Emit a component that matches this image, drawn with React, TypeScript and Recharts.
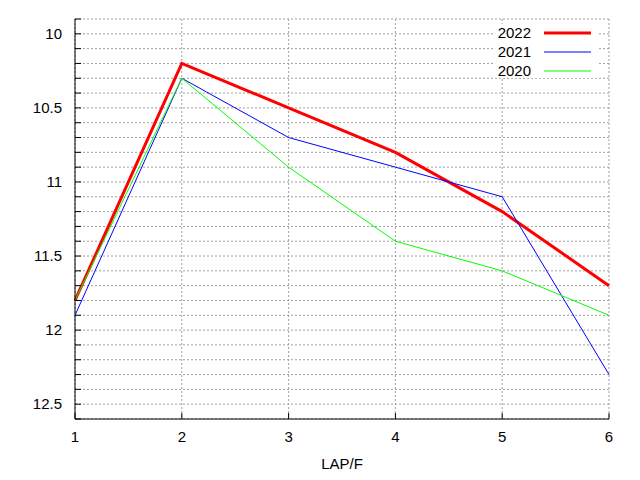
import React from "react";
import {
  LineChart,
  Line,
  XAxis,
  YAxis,
  CartesianGrid,
  Legend,
} from "recharts";

// values
const X_VALUES = [1, 2, 3, 4, 5, 6];
const SERIES_2022 = [11.8, 10.2, 10.5, 10.8, 11.2, 11.7];
const SERIES_2021 = [11.9, 10.3, 10.7, 10.9, 11.1, 12.3];
const SERIES_2020 = [11.8, 10.3, 10.9, 11.4, 11.6, 11.9];

const X_TICKS = [1, 2, 3, 4, 5, 6];
const Y_TICKS = [
  9.9, 10, 10.1, 10.2, 10.3, 10.4, 10.5, 10.6, 10.7, 10.8, 10.9, 11, 11.1,
  11.2, 11.3, 11.4, 11.5, 11.6, 11.7, 11.8, 11.9, 12, 12.1, 12.2, 12.3, 12.4,
  12.5, 12.6,
];
const Y_LABELS = [10, 10.5, 11, 11.5, 12, 12.5];

const SERIES = [
  { key: "2022", color: "#ff0000", width: 3 },
  { key: "2021", color: "#0000ff", width: 1 },
  { key: "2020", color: "#00ff00", width: 1 },
];

const data = X_VALUES.map((x, i) => ({
  x,
  "2022": SERIES_2022[i],
  "2021": SERIES_2021[i],
  "2020": SERIES_2020[i],
}));

const FONT = "'Liberation Sans', Arial, sans-serif";
const TICK_LEN = 6;

const LeftTick = ({ x, y, payload }: any) => (
  <g>
    <line x1={x} x2={x + TICK_LEN} y1={y} y2={y} stroke="#000" />
    {Y_LABELS.includes(payload.value) && (
      <text
        x={x - 13}
        y={y}
        dy="0.35em"
        textAnchor="end"
        fill="#000"
        fontSize={15}
        fontFamily={FONT}
      >
        {payload.value}
      </text>
    )}
  </g>
);

const RightTick = ({ x, y }: any) => (
  <line x1={x} x2={x - TICK_LEN} y1={y} y2={y} stroke="#000" />
);

const BottomTick = ({ x, y, payload }: any) => (
  <g>
    <line x1={x} x2={x} y1={y} y2={y - TICK_LEN} stroke="#000" />
    <text
      x={x}
      y={y + 12}
      dy="0.71em"
      textAnchor="middle"
      fill="#000"
      fontSize={15}
      fontFamily={FONT}
    >
      {payload.value}
    </text>
  </g>
);

const TopTick = ({ x, y }: any) => (
  <line x1={x} x2={x} y1={y} y2={y + TICK_LEN} stroke="#000" />
);

const KeyBox = () => (
  <svg width={104} height={54} style={{ display: "block", background: "#fff" }}>
    {SERIES.map((s, i) => (
      <g key={s.key}>
        <text
          x={38}
          y={9 + i * 19}
          dy="0.35em"
          textAnchor="end"
          fill="#000"
          fontSize={15}
          fontFamily={FONT}
        >
          {s.key}
        </text>
        <line
          x1={51}
          x2={98}
          y1={9 + i * 19}
          y2={9 + i * 19}
          stroke={s.color}
          strokeWidth={s.width}
        />
      </g>
    ))}
  </svg>
);

export default function App() {
  return (
    <div style={{ position: "absolute", left: 0, top: 0, background: "#fff" }}>
      <LineChart
        width={640}
        height={480}
        data={data}
        margin={{ top: 19, right: 31, bottom: 0, left: 0 }}
      >
        <CartesianGrid stroke="#a0a0a0" strokeDasharray="2 2" />
        <XAxis
          dataKey="x"
          type="number"
          domain={[1, 6]}
          ticks={X_TICKS}
          interval={0}
          height={61}
          tickSize={0}
          tickMargin={0}
          tickLine={false}
          axisLine={{ stroke: "#000" }}
          tick={BottomTick}
          label={{
            value: "LAP/F",
            position: "insideBottom",
            offset: 11,
            fill: "#000",
            fontSize: 15,
            fontFamily: FONT,
          }}
        />
        <XAxis
          xAxisId="top"
          orientation="top"
          dataKey="x"
          type="number"
          domain={[1, 6]}
          ticks={X_TICKS}
          interval={0}
          height={0}
          tickSize={0}
          tickMargin={0}
          tickLine={false}
          axisLine={{ stroke: "#000" }}
          tick={TopTick}
        />
        <YAxis
          type="number"
          reversed
          domain={[9.9, 12.6]}
          allowDataOverflow
          ticks={Y_TICKS}
          interval={0}
          width={75}
          tickSize={0}
          tickMargin={0}
          tickLine={false}
          axisLine={{ stroke: "#000" }}
          tick={LeftTick}
        />
        <YAxis
          yAxisId="right"
          orientation="right"
          type="number"
          reversed
          domain={[9.9, 12.6]}
          allowDataOverflow
          ticks={Y_TICKS}
          interval={0}
          width={0}
          tickSize={0}
          tickMargin={0}
          tickLine={false}
          axisLine={{ stroke: "#000" }}
          tick={RightTick}
        />
        <Legend
          layout="vertical"
          align="center"
          verticalAlign="middle"
          content={KeyBox}
          wrapperStyle={{ left: 493, top: 24, width: 104, height: 54 }}
        />
        {SERIES.map((s) => (
          <Line
            key={s.key}
            dataKey={s.key}
            name={s.key}
            type="linear"
            stroke={s.color}
            strokeWidth={s.width}
            dot={false}
            activeDot={false}
            isAnimationActive={false}
          />
        ))}
      </LineChart>
    </div>
  );
}
